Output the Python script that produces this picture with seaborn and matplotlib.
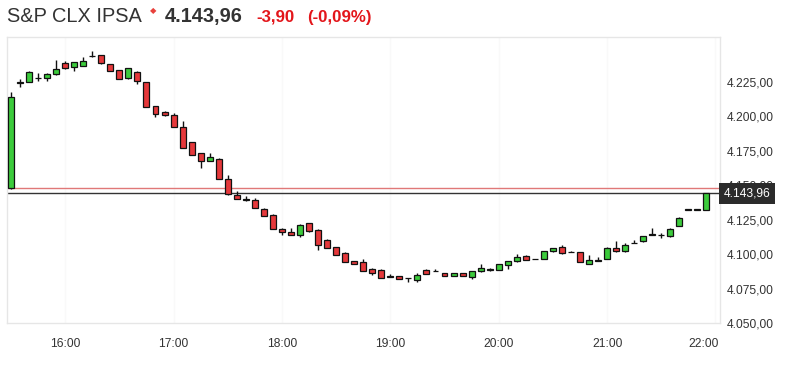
import numpy as np
import pandas as pd
import matplotlib
matplotlib.use("Agg")
import matplotlib.pyplot as plt
import matplotlib.transforms as mtrans
import seaborn as sns

# ---- data (5-minute candles, 15:30 .. 21:55) ----
opens = [4147.9, 4224.2, 4225.0, 4227.4, 4227.5, 4230.4, 4238.8, 4235.9, 4236.6, 4243.7,
         4244.4, 4237.9, 4233.5, 4227.5, 4232.3, 4225.0, 4207.6, 4202.8, 4200.8, 4192.3,
         4181.4, 4173.0, 4167.6, 4169.3, 4154.3, 4142.7, 4139.3, 4139.5, 4133.0, 4128.6,
         4118.5, 4116.0, 4113.6, 4122.5, 4117.7, 4110.5, 4105.1, 4101.0, 4094.9, 4094.2,
         4089.4, 4088.7, 4084.0, 4084.0, 4082.7, 4081.4, 4088.7, 4087.5, 4086.2, 4084.0,
         4086.2, 4083.3, 4087.4, 4088.6, 4088.7, 4092.0, 4094.7, 4098.8, 4096.3, 4096.7,
         4102.0, 4104.8, 4101.4, 4101.5, 4093.1, 4095.3, 4096.7, 4104.1, 4102.0, 4107.9,
         4109.2, 4114.2, 4113.5, 4112.9, 4120.3, 4132.3, 4132.3, 4132.3]
highs = [4217.7, 4226.7, 4232.6, 4231.1, 4231.5, 4240.8, 4240.3, 4239.7, 4242.7, 4247.5,
         4244.6, 4238.1, 4233.7, 4234.9, 4232.5, 4225.2, 4207.8, 4203.9, 4202.0, 4196.4,
         4181.6, 4173.2, 4173.4, 4169.5, 4157.2, 4145.8, 4142.0, 4140.5, 4133.2, 4128.8,
         4118.7, 4118.9, 4121.6, 4122.7, 4117.9, 4110.7, 4105.3, 4101.2, 4095.1, 4096.7,
         4089.6, 4088.9, 4085.2, 4084.2, 4082.9, 4086.2, 4088.9, 4089.4, 4086.4, 4086.4,
         4086.4, 4087.8, 4092.5, 4090.0, 4092.7, 4095.1, 4099.8, 4099.0, 4096.6, 4102.4,
         4104.3, 4106.3, 4102.6, 4101.7, 4099.0, 4097.8, 4104.8, 4109.4, 4108.0, 4110.5,
         4113.3, 4118.9, 4115.3, 4118.7, 4126.7, 4132.4, 4132.4, 4143.96]
lows = [4147.5, 4221.4, 4224.8, 4225.7, 4225.7, 4230.2, 4234.5, 4233.0, 4236.4, 4242.7,
        4238.2, 4232.8, 4227.0, 4227.3, 4223.3, 4206.6, 4199.1, 4200.4, 4192.1, 4177.1,
        4172.0, 4162.8, 4167.4, 4154.6, 4143.2, 4140.1, 4138.3, 4133.5, 4127.4, 4118.0,
        4113.6, 4113.9, 4112.4, 4116.3, 4102.7, 4104.5, 4099.4, 4094.2, 4092.8, 4087.4,
        4084.5, 4082.7, 4083.4, 4081.9, 4079.7, 4079.7, 4085.6, 4087.4, 4083.8, 4083.8,
        4084.1, 4082.1, 4087.2, 4087.4, 4088.5, 4089.1, 4094.5, 4095.4, 4096.2, 4096.5,
        4101.8, 4100.3, 4101.3, 4094.0, 4092.9, 4095.2, 4096.5, 4101.8, 4101.8, 4107.8,
        4109.0, 4114.1, 4111.9, 4112.7, 4120.1, 4132.2, 4132.2, 4132.1]
closes = [4214.1, 4224.5, 4232.3, 4227.7, 4230.6, 4234.0, 4234.7, 4239.5, 4240.0, 4244.0,
          4238.4, 4233.0, 4227.2, 4234.7, 4225.7, 4206.8, 4201.3, 4200.6, 4192.3, 4177.3,
          4172.2, 4167.6, 4170.5, 4154.8, 4143.4, 4140.3, 4139.5, 4133.7, 4127.6, 4118.2,
          4115.8, 4114.1, 4121.4, 4116.5, 4106.8, 4104.7, 4099.6, 4094.4, 4093.0, 4087.6,
          4086.2, 4082.9, 4083.6, 4082.1, 4082.5, 4084.5, 4085.8, 4087.7, 4084.0, 4086.2,
          4084.3, 4087.6, 4090.1, 4088.8, 4092.5, 4094.9, 4097.8, 4095.6, 4096.4, 4102.2,
          4104.1, 4100.5, 4101.5, 4094.2, 4096.0, 4095.4, 4104.6, 4102.0, 4106.8, 4108.0,
          4113.1, 4114.3, 4113.7, 4118.5, 4126.5, 4132.3, 4132.3, 4143.96]

hour_labels = ["16:00", "17:00", "18:00", "19:00", "20:00", "21:00", "22:00"]
hour_index = [6, 18, 30, 42, 54, 66, 78]
y_ticks = [4050, 4075, 4100, 4125, 4150, 4175, 4200, 4225]
prev_close = 4147.86
last_price = 4143.96
title_name = "S&P CLX IPSA"
title_price = "4.143,96"
title_change = "-3,90"
title_pct = "(-0,09%)"

df = pd.DataFrame({"open": opens, "high": highs, "low": lows, "close": closes})
df["i"] = np.arange(len(df))
df["up"] = df["close"] >= df["open"]
df["body_lo"] = df[["open", "close"]].min(axis=1)
df["body_h"] = (df["close"] - df["open"]).abs().clip(lower=0.35)

sns.set_theme(style="white")
plt.rcParams["font.family"] = ["Liberation Sans", "DejaVu Sans"]

GREEN = "#3ccb3c"
RED = "#e5383b"
TXT = "#333333"

fig = plt.figure(figsize=(7.87, 3.68), dpi=100)
ax = fig.add_axes([7 / 787, 45 / 368, 713 / 787, 286 / 368])

# very faint vertical hour grid
ax.grid(axis="x", color="#f9f9f9", linewidth=1)
ax.grid(axis="y", visible=False)

ax.axhline(prev_close, color="#e07878", linewidth=1.0, zorder=2)
ax.axhline(last_price, color="#333333", linewidth=1.0, zorder=2)

ax.vlines(df["i"], df["low"], df["high"], color="#111111", linewidth=1.0, zorder=3)
ax.bar(df["i"], df["body_h"], bottom=df["body_lo"], width=0.66,
       color=[GREEN if u else RED for u in df["up"]],
       edgecolor="#111111", linewidth=0.9, zorder=4)

ax.set_xlim(-0.44, 78.5)
ax.set_ylim(4050, 4257.5)

ax.set_xticks(hour_index)
ax.set_xticklabels(hour_labels)
ax.set_yticks(y_ticks)
ax.set_yticklabels([f"{v:,.2f}".replace(",", "X").replace(".", ",").replace("X", ".") for v in y_ticks])
ax.yaxis.tick_right()
ax.tick_params(axis="y", length=0, pad=5, labelsize=8.64, labelcolor=TXT)
ax.tick_params(axis="x", length=0, pad=11, labelsize=8.64, labelcolor=TXT)
lbls = ax.get_xticklabels()
lbls[-1].set_transform(lbls[-1].get_transform() + mtrans.ScaledTranslation(-12 / 100, 0, fig.dpi_scale_trans))

for s in ax.spines.values():
    s.set_color("#e6e6e6")
    s.set_linewidth(1)

# last price box
ax.annotate(title_price, xy=(1.0, last_price),
            xycoords=mtrans.blended_transform_factory(ax.transAxes, ax.transData),
            xytext=(2.6, 0), textcoords="offset points", ha="left", va="center",
            color="white", fontsize=8.64,
            bbox=dict(boxstyle="square,pad=0.35", fc="#2b2b2b", ec="none"),
            zorder=10, annotation_clip=False)

# header
base = 1 - 21.7 / 368
fig.text(7 / 787, base, title_name, fontsize=14.4, color=TXT, va="baseline", ha="left")
fig.text(153 / 787, 1 - 10.5 / 368, "\u25C6", fontsize=6, color="#e8413c",
         va="center", ha="center", family="DejaVu Sans")
fig.text(165 / 787, base, title_price, fontsize=14.4, color=TXT, weight="bold",
         va="baseline", ha="left")
fig.text(256 / 787, base, title_change, fontsize=12.2, color="#e3161b", weight="bold",
         va="baseline", ha="left")
fig.text(307 / 787, base, title_pct, fontsize=12.2, color="#e3161b", weight="bold",
         va="baseline", ha="left")

fig.savefig("out.png", dpi=100)
